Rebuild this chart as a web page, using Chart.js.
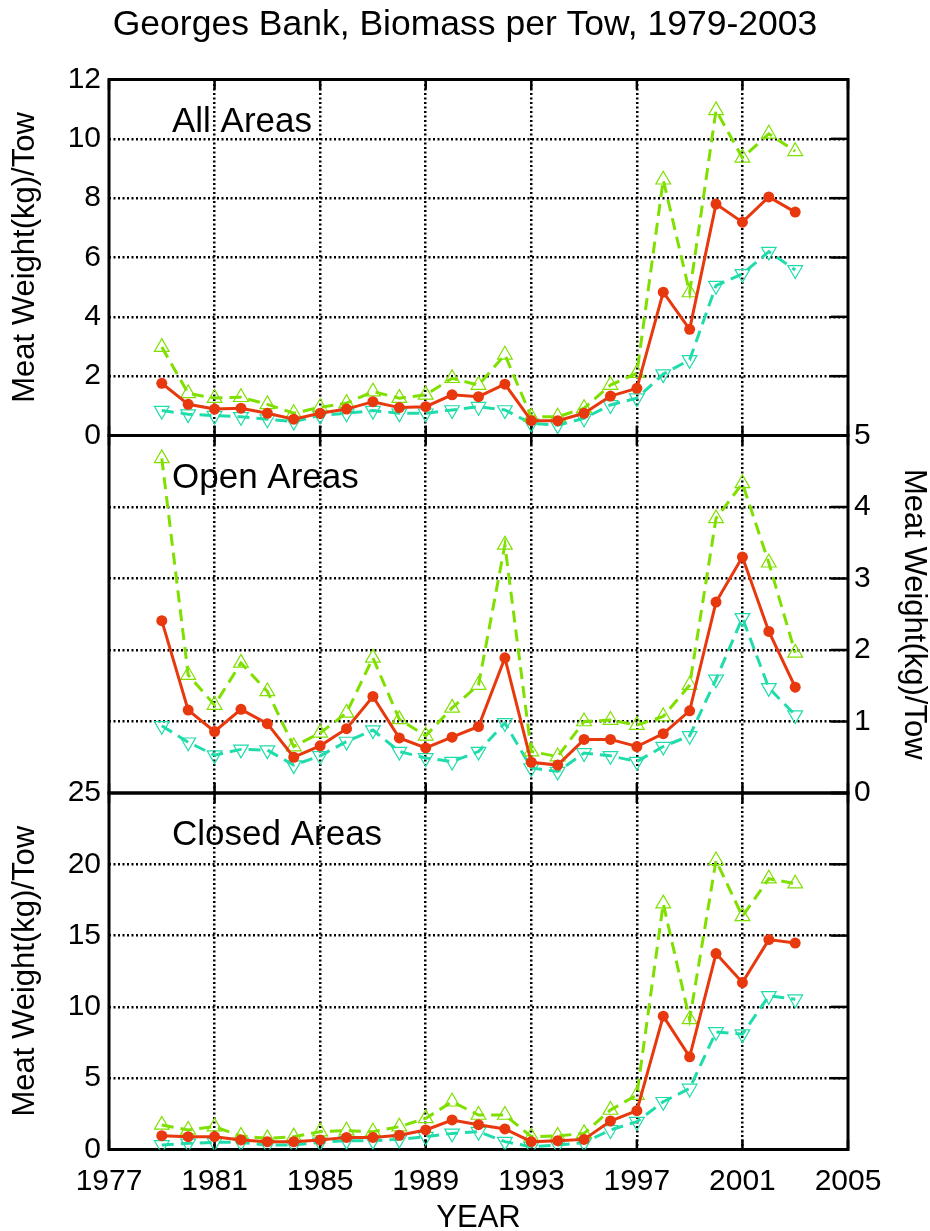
<!DOCTYPE html>
<html>
<head>
<meta charset="utf-8">
<script src="https://cdn.jsdelivr.net/npm/chart.js@4/dist/chart.umd.min.js"></script>
<style>
  html, body { margin: 0; padding: 0; background: #fff; overflow: hidden; }
  #wrap { position: relative; width: 930px; height: 1231px; }
  #wrap canvas { position: absolute; left: 0; top: 0; }
</style>
</head>
<body>
<div id="wrap">
  <canvas id="pAll" width="930" height="1245"></canvas>
  <canvas id="pOpen" width="930" height="1245"></canvas>
  <canvas id="pClosed" width="930" height="1245"></canvas>
</div>
<script>
// Survey years
const years = [1979, 1980, 1981, 1982, 1983, 1984, 1985, 1986, 1987, 1988, 1989, 1990,
               1991, 1992, 1993, 1994, 1995, 1996, 1997, 1998, 1999, 2000, 2001, 2002, 2003];

// All areas: mean and upper / lower bounds (kg meat weight per tow)
const allMean  = [1.76, 1.05, 0.89, 0.92, 0.75, 0.55, 0.75, 0.89, 1.14, 0.94, 0.97, 1.37,
                  1.31, 1.73, 0.50, 0.50, 0.75, 1.33, 1.59, 4.83, 3.58, 7.80, 7.19, 8.04, 7.53];
const allUpper = [2.98, 1.42, 1.26, 1.29, 1.05, 0.75, 0.95, 1.09, 1.48, 1.26, 1.37, 1.93,
                  1.70, 2.72, 0.63, 0.63, 0.92, 1.70, 2.10, 8.62, 4.82, 10.96, 9.36, 10.17, 9.58];
const allLower = [0.84, 0.72, 0.67, 0.63, 0.55, 0.47, 0.68, 0.75, 0.84, 0.75, 0.75, 0.86,
                  0.97, 0.86, 0.41, 0.35, 0.58, 1.03, 1.26, 2.07, 2.55, 5.05, 5.45, 6.20, 5.58];

// Open areas
const openMean  = [2.41, 1.16, 0.86, 1.17, 0.97, 0.50, 0.66, 0.90, 1.35, 0.77, 0.63, 0.78,
                   0.93, 1.89, 0.43, 0.39, 0.75, 0.75, 0.65, 0.83, 1.15, 2.67, 3.30, 2.26, 1.48];
const openUpper = [4.68, 1.65, 1.23, 1.82, 1.42, 0.65, 0.84, 1.12, 1.89, 1.03, 0.80, 1.19,
                   1.51, 3.47, 0.58, 0.51, 1.00, 1.02, 0.95, 1.07, 1.51, 3.84, 4.33, 3.22, 1.96];
const openLower = [0.94, 0.71, 0.53, 0.61, 0.60, 0.39, 0.52, 0.72, 0.88, 0.58, 0.49, 0.44,
                   0.58, 0.98, 0.35, 0.30, 0.56, 0.52, 0.44, 0.65, 0.80, 1.59, 2.45, 1.47, 1.09];

// Closed areas
const closedMean  = [0.97, 0.90, 0.90, 0.67, 0.55, 0.55, 0.67, 0.85, 0.85, 1.00, 1.37, 2.07,
                     1.74, 1.44, 0.55, 0.62, 0.71, 2.00, 2.72, 9.35, 6.50, 13.74, 11.71, 14.72, 14.48];
const closedUpper = [1.72, 1.37, 1.60, 0.95, 0.78, 0.90, 1.25, 1.32, 1.25, 1.60, 2.18, 3.35,
                     2.42, 2.42, 0.90, 0.95, 1.13, 2.77, 3.82, 17.24, 9.12, 20.27, 16.35, 18.99, 18.64];
const closedLower = [0.32, 0.43, 0.50, 0.50, 0.32, 0.32, 0.50, 0.62, 0.62, 0.71, 0.90, 1.13,
                     1.25, 0.55, 0.20, 0.32, 0.48, 1.37, 1.95, 3.35, 4.28, 8.25, 8.09, 10.77, 10.54];

// Axis ticks
const xTickYears  = [1977, 1981, 1985, 1989, 1993, 1997, 2001, 2005];
const allTicks    = [0, 2, 4, 6, 8, 10, 12];
const openTicks   = [0, 1, 2, 3, 4, 5];
const closedTicks = [0, 5, 10, 15, 20, 25];

const TITLE = 'Georges Bank, Biomass per Tow, 1979-2003';
const Y_TITLE = 'Meat Weight(kg)/Tow';
const X_TITLE = 'YEAR';

const FONT = '"Liberation Sans", Arial, Helvetica, sans-serif';
const RED = '#e8380e';
const GREEN = '#7fe000';
const TEAL = '#20dcab';
const CANVAS_H = 1245;
const GRID_DASH = [2, 2.5];

// Page layout of the three stacked panels
const PLOT_LEFT = 109, PLOT_RIGHT = 848;
const PANEL_EDGES = [79.5, 435.5, 793, 1149.5];

function toPoints(values) {
  return years.map((yr, i) => ({ x: yr, y: values[i] }));
}

function panelSeries(mean, upper, lower) {
  return [
    {
      label: 'Mean', data: toPoints(mean),
      borderColor: RED, backgroundColor: RED, borderWidth: 3,
      pointStyle: 'circle', pointRadius: 5.5, pointBorderWidth: 0,
      pointBackgroundColor: RED, tension: 0
    },
    {
      label: 'Upper', data: toPoints(upper),
      borderColor: GREEN, borderWidth: 3, borderDash: [12, 7],
      pointStyle: 'triangle', pointRadius: 8.5, pointBorderWidth: 1.2,
      pointBorderColor: GREEN, pointBackgroundColor: 'rgba(0,0,0,0)', tension: 0
    },
    {
      label: 'Lower', data: toPoints(lower),
      borderColor: TEAL, borderWidth: 3, borderDash: [12, 7],
      pointStyle: 'triangle', pointRotation: 180, pointRadius: 8.5, pointBorderWidth: 1.2,
      pointBorderColor: TEAL, pointBackgroundColor: 'rgba(0,0,0,0)', tension: 0
    }
  ];
}

function gridColor(min, max) {
  return ctx => (ctx.tick && (ctx.tick.value === min || ctx.tick.value === max)) ? 'rgba(0,0,0,0)' : '#000';
}

function xScale(showLabels) {
  return {
    type: 'linear', position: 'bottom', min: 1977, max: 2005,
    afterBuildTicks: s => { s.ticks = xTickYears.map(v => ({ value: v })); },
    grid: { color: gridColor(1977, 2005), lineWidth: 2.5, drawTicks: false, borderDash: GRID_DASH },
    border: { display: false, dash: GRID_DASH },
    ticks: {
      display: showLabels, color: '#000', font: { family: FONT, size: 30 },
      padding: 14, maxRotation: 0, autoSkip: false, callback: v => String(v)
    },
    title: {
      display: showLabels, text: X_TITLE, color: '#000',
      font: { family: FONT, size: 31 }, padding: { top: 0, bottom: 7.5 }
    },
    afterFit: s => { s.height = showLabels ? CANVAS_H - PANEL_EDGES[3] : 0; }
  };
}

function yScale(position, tickValues) {
  const min = tickValues[0], max = tickValues[tickValues.length - 1];
  const left = position === 'left';
  return {
    type: 'linear', position, min, max,
    afterBuildTicks: s => { s.ticks = tickValues.map(v => ({ value: v })); },
    grid: { color: gridColor(min, max), lineWidth: 2.5, drawTicks: false, borderDash: GRID_DASH },
    border: { display: false, dash: GRID_DASH },
    ticks: { color: '#000', font: { family: FONT, size: 30 }, padding: left ? 8 : 6, callback: v => String(v) },
    title: {
      display: true, text: Y_TITLE, color: '#000',
      font: { family: FONT, size: 31, lineHeight: 1 },
      padding: { top: left ? 10 : 0.5, bottom: 0 }
    },
    afterFit: s => { s.width = left ? PLOT_LEFT : 930 - PLOT_RIGHT; }
  };
}

// Box frame, inward tick marks and the panel caption
const panelFrame = {
  id: 'panelFrame',
  beforeDatasetsDraw(chart, args, opts) {
    const { ctx, chartArea: a } = chart;
    ctx.save();
    ctx.setLineDash([]);
    ctx.strokeStyle = '#000';
    ctx.lineWidth = 2.5;
    const ys = chart.scales[opts.yId];
    ys.ticks.forEach(t => {
      const py = ys.getPixelForValue(t.value);
      ctx.beginPath(); ctx.moveTo(a.right - 17, py); ctx.lineTo(a.right, py); ctx.stroke();
    });
    const xs = chart.scales.x;
    xs.ticks.forEach(t => {
      const px = xs.getPixelForValue(t.value);
      ctx.beginPath(); ctx.moveTo(px, a.top); ctx.lineTo(px, a.top + 10); ctx.stroke();
      ctx.beginPath(); ctx.moveTo(px, a.bottom); ctx.lineTo(px, a.bottom - 10); ctx.stroke();
    });
    ctx.lineWidth = 3;
    ctx.strokeRect(a.left, a.top, a.right - a.left, a.bottom - a.top);
    ctx.fillStyle = '#000';
    ctx.font = '35px ' + FONT;
    ctx.textBaseline = 'alphabetic';
    ctx.textAlign = 'left';
    ctx.fillText(opts.label, a.left + 63, a.top + 52);
    ctx.restore();
  }
};

function baseOptions(padding, plugins, scales) {
  return {
    responsive: false, animation: false, devicePixelRatio: 1,
    layout: { padding },
    plugins: Object.assign({ legend: { display: false }, tooltip: { enabled: false } }, plugins),
    scales
  };
}

// Top panel: all areas, with the figure title
new Chart(document.getElementById('pAll'), {
  type: 'line',
  data: { datasets: panelSeries(allMean, allUpper, allLower) },
  options: baseOptions(
    { top: 0, left: 0, right: 0, bottom: CANVAS_H - PANEL_EDGES[1] },
    {
      title: {
        display: true, text: TITLE, color: '#000',
        font: { family: FONT, size: 35.5, weight: 'normal', lineHeight: 1.2 },
        padding: { top: 4, bottom: PANEL_EDGES[0] - 4 - 42.6 }
      },
      panelFrame: { label: 'All Areas', yId: 'y' }
    },
    {
      x: xScale(false),
      y: yScale('left', allTicks),
      yPad: {
        position: 'right', display: true,
        grid: { display: false }, border: { display: false }, ticks: { display: false },
        afterFit: s => { s.width = 930 - PLOT_RIGHT; }
      }
    }
  ),
  plugins: [panelFrame]
});

// Middle panel: open areas, axis on the right
new Chart(document.getElementById('pOpen'), {
  type: 'line',
  data: { datasets: panelSeries(openMean, openUpper, openLower) },
  options: baseOptions(
    { top: PANEL_EDGES[1], left: PLOT_LEFT, right: 0, bottom: CANVAS_H - PANEL_EDGES[2] },
    { panelFrame: { label: 'Open Areas', yId: 'y' } },
    { x: xScale(false), y: yScale('right', openTicks) }
  ),
  plugins: [panelFrame]
});

// Bottom panel: closed areas, with the year axis
new Chart(document.getElementById('pClosed'), {
  type: 'line',
  data: { datasets: panelSeries(closedMean, closedUpper, closedLower) },
  options: baseOptions(
    { top: PANEL_EDGES[2], left: 0, right: 930 - PLOT_RIGHT, bottom: 0 },
    { panelFrame: { label: 'Closed Areas', yId: 'y' } },
    { x: xScale(true), y: yScale('left', closedTicks) }
  ),
  plugins: [panelFrame]
});
</script>
</body>
</html>
